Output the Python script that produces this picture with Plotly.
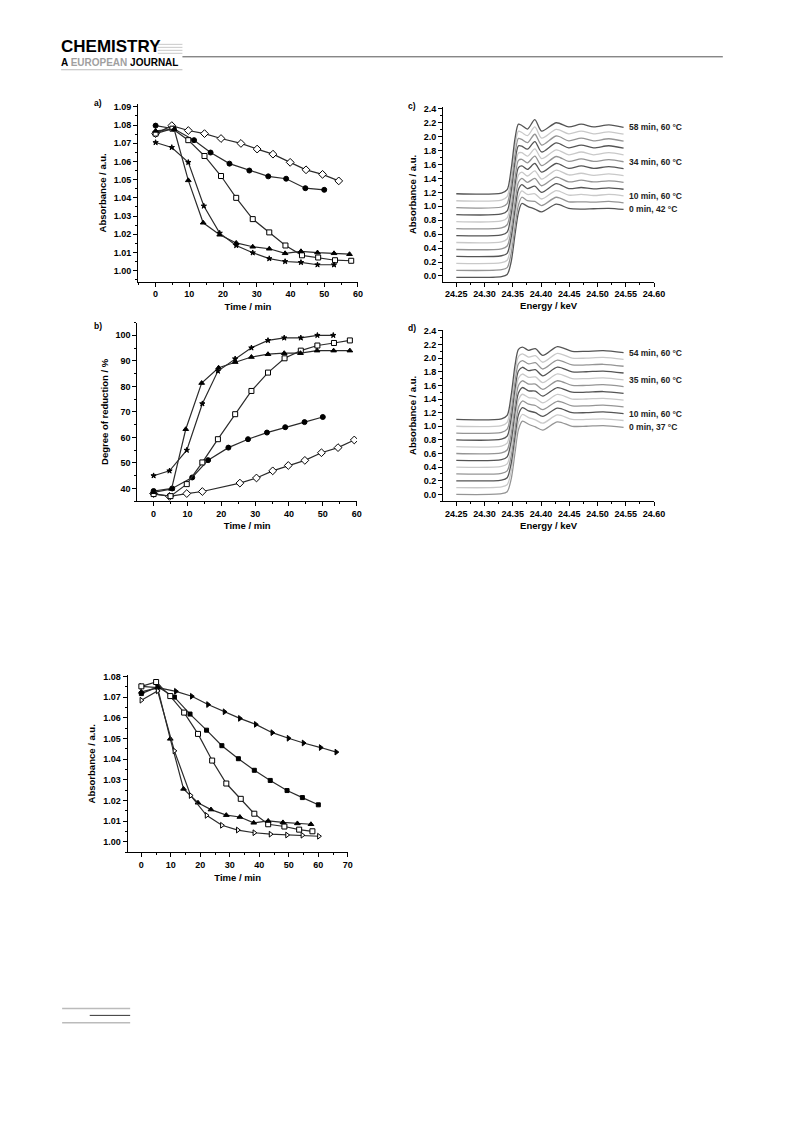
import plotly.graph_objects as go

# ---------------- data: panel a (absorbance vs time) ----------------
a_t_circ = [0, 5.4, 11.4, 16.3, 21.9, 27.8, 33.4, 38.7, 44.4, 50]
a_v_circ = [1.0797, 1.0780, 1.0717, 1.0649, 1.0588, 1.0550, 1.0518, 1.0505, 1.0453, 1.0444]
a_t_diam = [0, 4.8, 9.7, 14.5, 19.4, 25.3, 30.1, 34.8, 39.9, 44.6, 49.5, 54.3]
a_v_diam = [1.0753, 1.0797, 1.0770, 1.0753, 1.0726, 1.0699, 1.0668, 1.0640, 1.0595, 1.0554, 1.0529, 1.0493]
a_t_sq = [0, 5.0, 9.7, 14.5, 19.4, 23.9, 28.8, 33.7, 38.5, 43.4, 48.2, 53.2, 58]
a_v_sq = [1.0753, 1.0780, 1.0717, 1.0630, 1.0520, 1.0400, 1.0283, 1.0210, 1.0138, 1.0084, 1.0072, 1.0057, 1.0054]
a_t_tri = [0, 5.5, 9.7, 14.1, 19.0, 23.9, 28.8, 33.7, 38.4, 43.1, 48, 52.9, 57.5]
a_v_tri = [1.0768, 1.0777, 1.0496, 1.0263, 1.0197, 1.0152, 1.0131, 1.0120, 1.0095, 1.0106, 1.0099, 1.0095, 1.0090]
a_t_star = [0, 4.8, 9.7, 14.3, 19.0, 23.9, 28.8, 33.7, 38.4, 43.1, 48, 52.9]
a_v_star = [1.0704, 1.0677, 1.0595, 1.0355, 1.0206, 1.0138, 1.0098, 1.0066, 1.0050, 1.0045, 1.0032, 1.0032]

# ---------------- data: panel b (degree of reduction) ----------------
b_t_circ = [0, 5.5, 11.4, 16.1, 22.1, 27.9, 33.5, 38.9, 44.6, 50]
b_v_circ = [39, 40, 44.3, 51.1, 56, 59.3, 61.9, 64, 66, 68]
b_t_diam = [0, 4.7, 9.8, 14.4, 25.5, 30.4, 35.2, 39.8, 44.7, 49.6, 54.5, 59.3]
b_v_diam = [38, 36.9, 38, 38.8, 42.1, 44.1, 46.9, 49, 51, 54, 56, 59]
b_t_sq = [0, 5, 9.8, 14.4, 19.0, 24.1, 28.9, 33.8, 38.7, 43.5, 48.4, 53.3, 58]
b_v_sq = [37.8, 37, 41.7, 50.2, 59.3, 69.1, 78.2, 85.4, 91, 94, 96, 97, 98]
b_t_tri = [0, 5.3, 9.5, 14.2, 19.2, 24.1, 28.9, 33.8, 38.6, 43.4, 48.3, 53.2, 58]
b_v_tri = [38.5, 39.8, 63.2, 81.3, 87.3, 89.5, 91.5, 92.6, 93, 93, 94, 94, 94]
b_t_star = [0, 4.7, 9.8, 14.4, 19.0, 24.1, 28.9, 33.8, 38.6, 43.5, 48.4, 53.1]
b_v_star = [45, 46.9, 55, 73.2, 86, 90.8, 95.1, 98, 99, 99, 100, 100]

# ---------------- data: panel e (absorbance vs time) ----------------
e_t_rtri = [0, 5.6, 11.7, 17.1, 22.6, 28.2, 33.4, 38.8, 44.4, 49.9, 55, 60.8, 66.1]
e_v_rtri = [1.0752, 1.0746, 1.0728, 1.0704, 1.0664, 1.0629, 1.0597, 1.0568, 1.0528, 1.0501, 1.0478, 1.0456, 1.0434]
e_t_fsq = [0, 5.6, 11.2, 16.5, 22.1, 27.3, 32.9, 38.3, 43.7, 49.4, 54.6, 60]
e_v_fsq = [1.0717, 1.0749, 1.0700, 1.0618, 1.0540, 1.0465, 1.0402, 1.0346, 1.0297, 1.0248, 1.0214, 1.0179]
e_t_osq = [0, 5.0, 9.8, 14.5, 19.2, 24.0, 28.8, 33.7, 38.3, 43.0, 48.5, 53.5, 58]
e_v_osq = [1.0752, 1.0773, 1.0705, 1.0625, 1.0522, 1.0393, 1.0282, 1.0208, 1.0136, 1.0085, 1.0074, 1.0059, 1.0051]
e_t_ftri = [0, 5.5, 9.8, 14.3, 19.2, 23.6, 28.8, 33.4, 38.1, 43.0, 48, 52.9, 57.5]
e_v_ftri = [1.0725, 1.0745, 1.0498, 1.0256, 1.0189, 1.0156, 1.0129, 1.0120, 1.0092, 1.0101, 1.0094, 1.0089, 1.0085]
e_t_otri = [0, 5.5, 11.2, 16.7, 22.1, 27.3, 32.7, 38.3, 43.8, 49.4, 54.6, 60.2]
e_v_otri = [1.0685, 1.0730, 1.0440, 1.0224, 1.0128, 1.0080, 1.0057, 1.0044, 1.0037, 1.0033, 1.0032, 1.0027]

# ---------------- data: panel c (XANES, 13 spectra, bottom -> top) ----------------
c_energy = [24.25, 24.33, 24.34, 24.347, 24.354, 24.36, 24.366, 24.376, 24.389, 24.401,
            24.427, 24.449, 24.471, 24.493, 24.52, 24.546]
c_baseline = [-0.02, 0.08, 0.18, 0.28, 0.38, 0.48, 0.58, 0.68, 0.78, 0.88, 0.98, 1.08, 1.18]
c_rel = [
    [0, 0.01, 0.04, 0.22, 0.62, 0.93, 1.06, 1.02, 0.98, 0.94, 1.05, 0.99, 0.98, 0.985, 0.99, 0.975],
    [0, 0.01, 0.04, 0.24, 0.64, 0.94, 1.05, 1.00, 0.99, 0.93, 1.05, 0.985, 0.985, 0.98, 0.99, 0.97],
    [0, 0.01, 0.045, 0.26, 0.66, 0.95, 1.04, 0.99, 1.00, 0.925, 1.045, 0.98, 0.99, 0.975, 0.99, 0.97],
    [0, 0.01, 0.045, 0.27, 0.68, 0.96, 1.03, 0.975, 1.01, 0.92, 1.045, 0.975, 0.99, 0.97, 0.985, 0.965],
    [0, 0.01, 0.05, 0.28, 0.70, 0.965, 1.02, 0.965, 1.02, 0.915, 1.04, 0.97, 0.995, 0.97, 0.985, 0.965],
    [0, 0.01, 0.05, 0.29, 0.72, 0.97, 1.01, 0.955, 1.03, 0.91, 1.04, 0.97, 0.995, 0.965, 0.985, 0.96],
    [0, 0.01, 0.05, 0.30, 0.73, 0.975, 1.00, 0.95, 1.035, 0.91, 1.035, 0.965, 1.0, 0.965, 0.99, 0.96],
    [0, 0.01, 0.055, 0.31, 0.74, 0.98, 0.995, 0.945, 1.04, 0.905, 1.035, 0.965, 1.0, 0.965, 0.99, 0.96],
    [0, 0.01, 0.055, 0.32, 0.76, 0.985, 0.99, 0.94, 1.045, 0.905, 1.03, 0.96, 1.0, 0.96, 0.99, 0.96],
    [0, 0.01, 0.055, 0.33, 0.77, 0.99, 0.985, 0.94, 1.05, 0.90, 1.03, 0.96, 1.0, 0.96, 0.99, 0.955],
    [0, 0.01, 0.06, 0.34, 0.78, 0.995, 0.98, 0.935, 1.055, 0.90, 1.03, 0.96, 1.0, 0.96, 0.99, 0.955],
    [0, 0.01, 0.06, 0.345, 0.79, 1.0, 0.98, 0.935, 1.06, 0.90, 1.025, 0.96, 1.0, 0.96, 0.99, 0.955],
    [0, 0.01, 0.06, 0.35, 0.80, 1.0, 0.98, 0.93, 1.065, 0.90, 1.02, 0.96, 1.0, 0.96, 0.99, 0.955],
]
c_labels = {0: "0 min, 42 °C", 2: "10 min, 60 °C", 7: "34 min, 60 °C", 12: "58 min, 60 °C"}

# ---------------- data: panel d (XANES, 12 spectra, bottom -> top) ----------------
d_energy = [24.25, 24.33, 24.34, 24.347, 24.354, 24.36, 24.367, 24.378, 24.39, 24.403,
            24.429, 24.455, 24.48, 24.51, 24.546]
d_baseline = [0.0, 0.1, 0.2, 0.3, 0.4, 0.5, 0.6, 0.7, 0.8, 0.9, 1.0, 1.1]
d_rel = [
    [0, 0.01, 0.04, 0.22, 0.62, 0.95, 1.075, 1.03, 0.99, 0.945, 1.065, 1.0, 1.0, 1.01, 0.985],
    [0, 0.01, 0.042, 0.235, 0.64, 0.96, 1.073, 1.028, 0.995, 0.945, 1.066, 1.0, 1.0, 1.01, 0.985],
    [0, 0.01, 0.044, 0.25, 0.66, 0.97, 1.072, 1.026, 1.0, 0.944, 1.066, 1.0, 1.0, 1.01, 0.985],
    [0, 0.01, 0.046, 0.26, 0.67, 0.975, 1.071, 1.024, 1.005, 0.944, 1.067, 1.0, 1.0, 1.01, 0.984],
    [0, 0.01, 0.048, 0.27, 0.69, 0.985, 1.07, 1.022, 1.01, 0.943, 1.067, 1.0, 1.0, 1.01, 0.984],
    [0, 0.01, 0.05, 0.28, 0.71, 0.99, 1.069, 1.02, 1.015, 0.943, 1.068, 1.0, 1.0, 1.01, 0.983],
    [0, 0.01, 0.052, 0.29, 0.72, 1.0, 1.068, 1.019, 1.02, 0.942, 1.068, 1.0, 1.0, 1.01, 0.983],
    [0, 0.01, 0.054, 0.30, 0.74, 1.005, 1.067, 1.018, 1.025, 0.942, 1.069, 1.0, 1.0, 1.01, 0.982],
    [0, 0.01, 0.055, 0.315, 0.755, 1.012, 1.066, 1.017, 1.03, 0.941, 1.069, 1.0, 1.0, 1.01, 0.982],
    [0, 0.01, 0.057, 0.325, 0.77, 1.018, 1.065, 1.016, 1.034, 0.941, 1.07, 1.0, 1.0, 1.01, 0.981],
    [0, 0.01, 0.058, 0.34, 0.785, 1.024, 1.064, 1.015, 1.037, 0.94, 1.07, 1.0, 1.0, 1.01, 0.981],
    [0, 0.01, 0.06, 0.35, 0.80, 1.03, 1.063, 1.015, 1.04, 0.94, 1.07, 1.0, 1.0, 1.01, 0.98],
]
d_labels = {0: "0 min, 37 °C", 2: "10 min, 60 °C", 7: "35 min, 60 °C", 11: "54 min, 60 °C"}

# ---------------- layout helpers ----------------
W, H = 793, 1121
FONT = "Liberation Sans, Arial, sans-serif"
LINE = "#2b2b2b"
GRAYS = ["#555555", "#c9c9c9", "#959595"]  # cycle from the top curve down


def pxx(x):
    return x / W


def pxy(y):
    return 1 - y / H


fig = go.Figure()


def add_series(t, v, ax, symbol, fill, size):
    fig.add_trace(go.Scatter(
        x=t, y=v, xaxis="x" + ax, yaxis="y" + ax, mode="lines+markers",
        line=dict(color=LINE, width=1.2),
        marker=dict(symbol=symbol, size=size, color=fill, line=dict(color="black", width=1)),
        showlegend=False, hoverinfo="skip"))


# panel a
add_series(a_t_diam, a_v_diam, "", "diamond", "white", 6)
add_series(a_t_circ, a_v_circ, "", "circle", "black", 5)
add_series(a_t_sq, a_v_sq, "", "square", "white", 5)
add_series(a_t_tri, a_v_tri, "", "triangle-up", "black", 5)
add_series(a_t_star, a_v_star, "", "star", "black", 4)
# panel b
add_series(b_t_diam, b_v_diam, "2", "diamond", "white", 6)
add_series(b_t_circ, b_v_circ, "2", "circle", "black", 5)
add_series(b_t_sq, b_v_sq, "2", "square", "white", 5)
add_series(b_t_tri, b_v_tri, "2", "triangle-up", "black", 5)
add_series(b_t_star, b_v_star, "2", "star", "black", 4)
# panel e
add_series(e_t_rtri, e_v_rtri, "5", "triangle-right", "black", 5)
add_series(e_t_fsq, e_v_fsq, "5", "square", "black", 4)
add_series(e_t_osq, e_v_osq, "5", "square", "white", 5)
add_series(e_t_ftri, e_v_ftri, "5", "triangle-up", "black", 5)
add_series(e_t_otri, e_v_otri, "5", "triangle-right", "white", 5)

annotations = []


def add_spectra(energy, baseline, rel, labels, ax):
    n = len(baseline)
    for k in range(n):
        y = [baseline[k] + r for r in rel[k]]
        col = GRAYS[(n - 1 - k) % 3]
        fig.add_trace(go.Scatter(
            x=energy, y=y, xaxis="x" + ax, yaxis="y" + ax, mode="lines",
            line=dict(color=col, width=1.3, shape="spline", smoothing=0.8),
            showlegend=False, hoverinfo="skip"))
        if k in labels:
            annotations.append(dict(
                x=energy[-1] + 0.006, y=y[-1], xref="x" + ax, yref="y" + ax,
                text=labels[k], showarrow=False, xanchor="left", yanchor="middle",
                font=dict(family=FONT, size=8.5, color="#222", weight="bold")))


add_spectra(c_energy, c_baseline, c_rel, c_labels, "3")
add_spectra(d_energy, d_baseline, d_rel, d_labels, "4")

tickfont = dict(family=FONT, size=9, color="black", weight="bold")
titlefont = dict(family=FONT, size=9.5, color="black", weight="bold")


def axis(domain, rng, dtick, minor, anchor, title, fmt, tick0=0, standoff=6):
    return dict(
        domain=domain, range=rng, dtick=dtick, tick0=tick0, tickformat=fmt,
        showline=True, linecolor="black", linewidth=1,
        ticks="outside", ticklen=4, tickwidth=1, tickcolor="black",
        minor=dict(dtick=minor, ticks="outside", ticklen=2, tickwidth=1, tickcolor="black"),
        showgrid=False, zeroline=False, tickfont=tickfont, anchor=anchor,
        title=dict(text=title, font=titlefont, standoff=standoff))


xa_dom = [pxx(140), pxx(363)]
xb_dom = [pxx(139.3), pxx(362)]
xc_dom = [pxx(449.3), pxx(663.3)]
xe_dom = [pxx(129.3), pxx(352.7)]
ya_dom = [pxy(278.5), pxy(100.5)]
yb_dom = [pxy(499), pxy(319.7)]
yc_dom = [pxy(278.5), pxy(103.8)]
yd_dom = [pxy(499), pxy(326.7)]
ye_dom = [pxy(851.2), pxy(673.8)]

layout = dict(
    width=W, height=H, margin=dict(l=0, r=0, t=0, b=0),
    paper_bgcolor="white", plot_bgcolor="white", showlegend=False,
    xaxis=axis(xa_dom, [-5.2, 60], 10, 5, "y", "Time / min", "d", standoff=5),
    yaxis=axis(ya_dom, [0.994, 1.0915], 0.01, 0.005, "x", "Absorbance / a.u.", ".2f", tick0=1.0, standoff=5),
    xaxis2=axis(xb_dom, [-4.8, 60.1], 10, 5, "y2", "Time / min", "d", standoff=4),
    yaxis2=axis(yb_dom, [35, 105], 10, 5, "x2", "Degree of reduction / %", "d", standoff=5),
    xaxis3=axis(xc_dom, [24.2266, 24.60], 0.05, 0.025, "y3", "Energy / keV", ".2f", tick0=24.25, standoff=4),
    yaxis3=axis(yc_dom, [-0.08, 2.42], 0.2, 0.1, "x3", "Absorbance / a.u.", ".1f", standoff=5),
    xaxis4=axis(xc_dom, [24.2266, 24.60], 0.05, 0.025, "y4", "Energy / keV", ".2f", tick0=24.25, standoff=4),
    yaxis4=axis(yd_dom, [-0.1, 2.42], 0.2, 0.1, "x4", "Absorbance / a.u.", ".1f", standoff=5),
    xaxis5=axis(xe_dom, [-4.7, 70], 10, 5, "y5", "Time / min", "d", standoff=5),
    yaxis5=axis(ye_dom, [0.995, 1.0805], 0.01, 0.005, "x5", "Absorbance / a.u.", ".2f", tick0=1.0, standoff=5),
)


def note(x, y, text, size=8, color="black", xanchor="left", weight="bold"):
    annotations.append(dict(x=pxx(x), y=pxy(y), xref="paper", yref="paper", text=text,
                            showarrow=False, xanchor=xanchor, yanchor="middle",
                            font=dict(family=FONT, size=size, color=color, weight=weight)))


note(93, 99, "a)", size=8.5)
note(93, 323, "b)", size=8.5)
note(412, 102, "c)", size=8.5)
note(412, 325, "d)", size=8.5)

# header
note(60, 43, "CHEMISTRY", size=17)
note(60, 58.5, 'A <span style="color:#a0a0a0">EUROPEAN</span> JOURNAL', size=10)

shapes = []


def hline(x0, x1, y, color, width):
    shapes.append(dict(type="line", xref="paper", yref="paper",
                       x0=pxx(x0), x1=pxx(x1), y0=pxy(y), y1=pxy(y),
                       line=dict(color=color, width=width)))


hline(185, 733, 53, "#555555", 1)
for yy in (40.5, 43.5, 46.5, 49.5):
    hline(160, 185, yy, "#bbbbbb", 0.8)
hline(62, 185, 66, "#bbbbbb", 1)
# footnote rules
hline(63, 132, 1008, "#bbbbbb", 1.5)
hline(91, 132, 1015, "#333333", 1)
hline(63, 132, 1022.5, "#bbbbbb", 1.5)

layout["annotations"] = annotations
layout["shapes"] = shapes
fig.update_layout(**layout)
fig.write_html("out.html", config={"displayModeBar": False, "staticPlot": True},
               post_script="document.body.style.margin='0px';")
